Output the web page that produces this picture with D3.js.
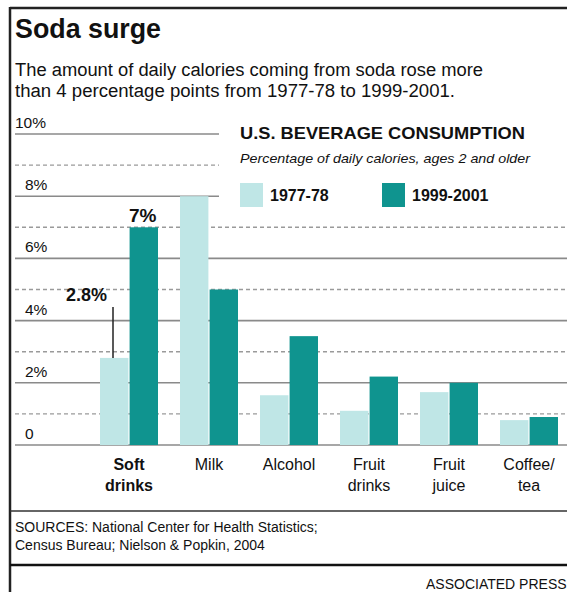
<!DOCTYPE html>
<html>
<head>
<meta charset="utf-8">
<script src="https://d3js.org/d3.v7.min.js"></script>
<style>
  body { margin: 0; background: #fff; }
  text { font-family: "Liberation Sans", Arial, sans-serif; fill: #111; }
</style>
</head>
<body>
<div id="plot_area"></div>
<script>
// chart data
var categories = ["Soft drinks", "Milk", "Alcohol", "Fruit drinks", "Fruit juice", "Coffee/tea"]
var categoryLines = [["Soft", "drinks"], ["Milk"], ["Alcohol"], ["Fruit", "drinks"], ["Fruit", "juice"], ["Coffee/", "tea"]]
var series = ["1977-78", "1999-2001"]
var values1977 = [2.8, 8.0, 1.6, 1.1, 1.7, 0.8]
var values1999 = [7.0, 5.0, 3.5, 2.2, 2.0, 0.9]
var yTicks = [0, 2, 4, 6, 8, 10]
var yTickLabels = ["0", "2%", "4%", "6%", "8%", "10%"]
var dashTicks = [1, 3, 5, 7, 9]

var width = 567, height = 592
var colors = {"1977-78": "#bfe6e6", "1999-2001": "#0f948f"}

var Svg = d3.select("#plot_area")
  .append("svg")
  .attr("width", width)
  .attr("height", height)

// scales
var x = d3.scaleBand()
  .domain(categories)
  .range([100, 558])
  .paddingInner(0.275)
  .paddingOuter(0)

var x1 = d3.scaleBand()
  .domain(series)
  .range([0, x.bandwidth()])
  .paddingInner(0.04)

var y = d3.scaleLinear()
  .domain([0, 10])
  .range([445, 134])

// frame
Svg.append("line").attr("x1", 10).attr("x2", width).attr("y1", 8).attr("y2", 8)
  .attr("stroke", "#222").attr("stroke-width", 2.5)
Svg.append("line").attr("x1", 10).attr("x2", 10).attr("y1", 7).attr("y2", height)
  .attr("stroke", "#222").attr("stroke-width", 2.5)

// title + subtitle
Svg.append("text").attr("x", 15).attr("y", 38)
  .attr("font-size", 28).attr("font-weight", "bold")
  .attr("textLength", 146).attr("lengthAdjust", "spacingAndGlyphs")
  .text("Soda surge")
Svg.append("text").attr("x", 15).attr("y", 76)
  .attr("font-size", 18)
  .attr("textLength", 468).attr("lengthAdjust", "spacingAndGlyphs")
  .text("The amount of daily calories coming from soda rose more")
Svg.append("text").attr("x", 15).attr("y", 97)
  .attr("font-size", 18)
  .attr("textLength", 440).attr("lengthAdjust", "spacingAndGlyphs")
  .text("than 4 percentage points from 1977-78  to 1999-2001.")

// gridlines: upper ones stop short of the legend
var grid = Svg.append("g")
grid.selectAll(".solid")
  .data(yTicks)
  .enter().append("line")
  .attr("x1", 15)
  .attr("x2", function(d) { return d >= 8 ? 219 : width })
  .attr("y1", function(d) { return y(d) })
  .attr("y2", function(d) { return y(d) })
  .attr("stroke", "#8a8a8a")
  .attr("stroke-width", 1.6)
grid.selectAll(".dash")
  .data(dashTicks)
  .enter().append("line")
  .attr("x1", 15)
  .attr("x2", function(d) { return d >= 9 ? 219 : width })
  .attr("y1", function(d) { return y(d) })
  .attr("y2", function(d) { return y(d) })
  .attr("stroke", "#9a9a9a")
  .attr("stroke-width", 1.4)
  .attr("stroke-dasharray", "4,3")

// tick labels sit above their lines
Svg.selectAll(".ytick")
  .data(yTicks)
  .enter().append("text")
  .attr("x", function(d, i) { return yTickLabels[i].length > 2 ? 15 : 25 })
  .attr("y", function(d) { return y(d) - 6 })
  .attr("font-size", 15.5)
  .text(function(d, i) { return yTickLabels[i] })

// bars
var rows = categories.map(function(c, i) {
  return {cat: c, vals: [{s: series[0], v: values1977[i]}, {s: series[1], v: values1999[i]}]}
})
var groups = Svg.selectAll(".grp")
  .data(rows)
  .enter().append("g")
  .attr("transform", function(d) { return "translate(" + x(d.cat) + ",0)" })
groups.selectAll("rect")
  .data(function(d) { return d.vals })
  .enter().append("rect")
  .attr("x", function(d) { return x1(d.s) })
  .attr("width", x1.bandwidth())
  .attr("y", function(d) { return y(d.v) })
  .attr("height", function(d) { return y(0) - y(d.v) })
  .attr("fill", function(d) { return colors[d.s] })

// callouts on soft drinks
var sx = x(categories[0])
Svg.append("text")
  .attr("x", sx + x1(series[1]) + x1.bandwidth() / 2 - 1)
  .attr("y", y(values1999[0]) - 5)
  .attr("text-anchor", "middle")
  .attr("font-size", 19).attr("font-weight", "bold")
  .text(values1999[0] + "%")
Svg.append("text")
  .attr("x", 107)
  .attr("y", 301)
  .attr("text-anchor", "end")
  .attr("font-size", 18).attr("font-weight", "bold")
  .text(values1977[0] + "%")
Svg.append("line")
  .attr("x1", 113).attr("x2", 113)
  .attr("y1", 307).attr("y2", y(values1977[0]))
  .attr("stroke", "#222").attr("stroke-width", 1.5)

// category labels
Svg.selectAll(".cat")
  .data(categoryLines)
  .enter().append("text")
  .attr("x", function(d, i) { return x(categories[i]) + x.bandwidth() / 2 })
  .attr("y", 470)
  .attr("text-anchor", "middle")
  .attr("font-size", 16)
  .attr("font-weight", function(d, i) { return i === 0 ? "bold" : "normal" })
  .each(function(d) {
    var t = d3.select(this)
    d.forEach(function(line, j) {
      t.append("tspan")
        .attr("x", t.attr("x"))
        .attr("dy", j === 0 ? 0 : 21)
        .text(line)
    })
  })

// legend
Svg.append("text").attr("x", 240).attr("y", 139)
  .attr("font-size", 17).attr("font-weight", "bold")
  .attr("textLength", 285).attr("lengthAdjust", "spacingAndGlyphs")
  .text("U.S. BEVERAGE CONSUMPTION")
Svg.append("text").attr("x", 240).attr("y", 163)
  .attr("font-size", 13.5).attr("font-style", "italic")
  .attr("textLength", 290).attr("lengthAdjust", "spacingAndGlyphs")
  .text("Percentage of daily calories, ages 2 and older")
var legendX = [240, 382]
series.forEach(function(s, i) {
  Svg.append("rect").attr("x", legendX[i]).attr("y", 183)
    .attr("width", 23).attr("height", 24)
    .attr("fill", colors[s])
  Svg.append("text").attr("x", legendX[i] + 30).attr("y", 201)
    .attr("font-size", 16).attr("font-weight", "bold")
    .text(s)
})

// footer
Svg.append("line").attr("x1", 10).attr("x2", width).attr("y1", 511).attr("y2", 511)
  .attr("stroke", "#333").attr("stroke-width", 1.5)
Svg.append("text").attr("x", 15).attr("y", 532)
  .attr("font-size", 14)
  .text("SOURCES: National Center for Health Statistics;")
Svg.append("text").attr("x", 15).attr("y", 550)
  .attr("font-size", 14)
  .text("Census Bureau; Nielson & Popkin, 2004")
Svg.append("line").attr("x1", 10).attr("x2", width).attr("y1", 565).attr("y2", 565)
  .attr("stroke", "#111").attr("stroke-width", 2.5)
Svg.append("text").attr("x", 426).attr("y", 589)
  .attr("font-size", 14)
  .text("ASSOCIATED PRESS")
</script>
</body>
</html>
